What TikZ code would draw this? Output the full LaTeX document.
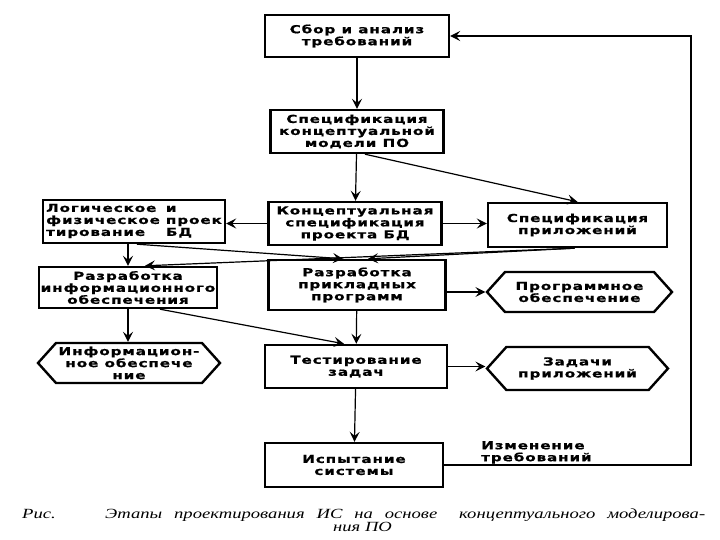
\documentclass[tikz,border=0pt]{standalone}
\usepackage{fontspec}
\usetikzlibrary{arrows.meta,shapes.symbols,calc}
\newfontfamily\bx{DejaVu Sans}[FakeStretch=1.38,LetterSpace=8,BoldFeatures={FakeBold=0.8}]
\newfontfamily\capfont{Liberation Serif}[FakeStretch=1.33]
\begin{document}
\begin{tikzpicture}[x=1pt,y=-1pt,
  txt/.style={font=\bx\bfseries\fontsize{11}{12}\selectfont, align=center, inner sep=1pt},
  box/.style={txt, draw, line width=2.4pt},
  hex/.style={txt, signal, signal to=east and west, signal pointer angle=96, draw, line width=2.4pt},
  arr/.style={-{Stealth[length=10pt,width=10pt,inset=4pt]}, line width=1.2pt},
  captxt/.style={font=\capfont\itshape\fontsize{14}{14}\selectfont, inner sep=0pt}]
\useasboundingbox (0,0) rectangle (720,540);
\fill[white] (0,0) rectangle (720,540);
% boxes
\node[box, minimum width=184pt, minimum height=42pt] (b1) at (357,36) {Сбор и анализ\\требований};
\node[box, minimum width=173pt, minimum height=43pt] (b2) at (357,131.5) {Спецификация\\концептуальной\\модели ПО};
\node[box, minimum width=173pt, minimum height=43pt] (b3) at (355,223.5) {Концептуальная\\спецификация\\проекта БД};
\node[box, minimum width=182pt, minimum height=43pt, align=left] (b4) at (134,221.5) {\begin{tabular}{@{}l@{\hspace{6pt}}l@{}}Логическое&и\\физическое&проек\\тирование&БД\end{tabular}};
\node[box, minimum width=179pt, minimum height=44pt] (b5) at (577.5,225) {Спецификация\\приложений};
\node[box, minimum width=178pt, minimum height=41pt] (b6) at (128,287.5) {Разработка\\информационного\\обеспечения};
\node[box, minimum width=177pt, minimum height=50pt] (b7) at (357,285) {Разработка\\прикладных\\программ};
\node[hex, minimum width=185pt, minimum height=40pt] (h1) at (579.5,292) {Программное\\обеспечение};
\node[hex, minimum width=182pt, minimum height=40pt] (h2) at (129,363) {Информацион-\\ное обеспече\\ние};
\node[box, minimum width=182pt, minimum height=43pt] (b8) at (356,366.5) {Тестирование\\задач};
\node[hex, minimum width=181pt, minimum height=43pt] (h3) at (577.5,368.5) {Задачи\\приложений};
\node[box, minimum width=178pt, minimum height=44pt] (b9) at (354,465) {Испытание\\системы};
\node[txt, anchor=north west, align=left] (lbl) at (480,440) {Изменение\\требований};
% connectors
\draw[arr] (b1) -- (b2);
\draw[arr] (b2) -- (b3);
\draw[arr] ($(b2.south)+(8,0)$) -- (b5.north);
\draw[arr] (b3.west) -- (b3.west -| b4.east);
\draw[arr] (b3.east) -- (b3.east -| b5.west);
\draw[arr] (b6.north |- b4.south) -- (b6.north);
\draw[arr] ($(b4.south)+(3,0)$) -- ($(b7.north)+(-14,0)$);
\draw[arr] ($(b5.south)+(-3,0)$) -- ($(b7.north)+(11,0)$);
\draw[arr] ($(b5.south)+(-3,0)$) -- ($(b6.north)+(17,0)$);
\draw[arr] (b7.east |- h1.west) -- (h1.west);
\draw[arr] (b7) -- (b8);
\draw[arr] (b6.south) -- (b6.south |- h2.north);
\draw[arr] ($(b6.south)+(32,0)$) -- ($(b8.north)+(-12,0)$);
\draw[arr] (b8.east) -- (b8.east -| h3.west);
\draw[arr] (b8) -- (b9);
\coordinate (fb) at (691,0);
\draw[arr] (b9.east) -- (b9.east -| fb) -- (fb |- b1.east) -- (b1.east);
% caption
\node[captxt, anchor=base west] (c0) at (22,518) {Рис.};
\node[captxt, anchor=base west] (c1) at (105,518) {\makebox[600pt][s]{Этапы проектирования ИС на основе\hspace{10pt} концептуального моделирова-}};
\node[captxt, anchor=base west] (c2) at (333,531) {ния ПО};
\end{tikzpicture}
\end{document}
